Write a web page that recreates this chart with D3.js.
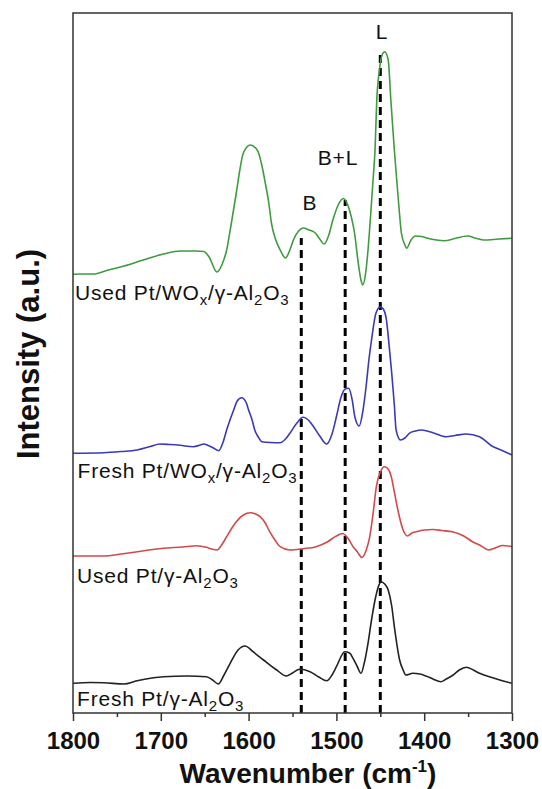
<!DOCTYPE html>
<html><head><meta charset="utf-8">
<script src="https://cdn.jsdelivr.net/npm/d3@7"></script>
<style>body{margin:0;background:#fff} svg{display:block}</style>
</head><body>
<svg id="chart" width="542" height="789"></svg>
<script>
// ---------- data (wavenumber, cm-1  /  offset intensity, a.u.) ----------
const usedWOxWn  = [1800,1790,1777,1760,1746,1720,1697,1678,1660,1651,1645,1636,1630,1625,1620,1614,1610,1606,1598,1592,1589,1585,1581,1577,1574,1569,1564,1558,1553,1549,1543,1538,1531,1524,1519,1514,1509,1504,1498,1492,1487,1483,1479,1476,1472,1470,1467,1464,1461,1458,1456,1454,1451,1448,1445,1441,1438,1434,1431,1428,1426,1422,1420,1415,1410,1403,1396,1386,1377,1365,1351,1340,1332,1315,1300];
const usedWOxVal = [438.7,439,439,443,446,453,459,462,462,461.5,456,441,449,463,488,520,543,560,568,565,561,548,530,510,490,473,463,455,463,473,482,485,483,480,474,469,477,493,508,514.5,508,496,478,456,433,428,438,463,498,536,563,613,643,658,661.3,653,613,563,530,498,480,468,464.7,473,477,476.5,474.7,473,472.3,474.5,477,474.5,473,474,474.7];

const freshWOxWn  = [1800,1765,1745,1727,1712,1701,1690,1678,1663,1655,1651,1646,1640,1634,1629,1625,1617,1613,1608,1603,1600,1596,1593,1589,1585,1575,1564,1558,1553,1545,1538,1532,1526,1519,1511,1505,1500,1495,1490,1486,1482,1479,1474,1470,1466,1463,1460,1455,1450,1446,1443,1440,1437,1434,1432,1427,1422,1417,1410,1403,1390,1375,1365,1352,1337,1323,1310,1300];
const freshWOxVal = [259.7,260.3,261.5,263,266.5,269,268.5,267.7,266.3,268,269,267.5,265,262.3,271,283,303,312,315.3,311,303,293,283,276,271.3,270.5,270.3,274,279.7,290,295.7,293,286.3,277,269,279,296.3,315,324,324.7,313,296.3,287,301,328,353,373,399.7,406.3,403,393,368,340,308,283,273,275,279.7,282,283,280.3,276.3,277.5,279,276.3,267,262,258];

const usedAlWn  = [1800,1765,1745,1727,1697,1675,1659,1648,1642,1636,1630,1625,1619,1614,1606,1598,1592,1587,1581,1576,1570,1564,1553,1538,1523,1510,1500,1493,1487,1481,1476,1471,1466,1462,1458,1454.5,1450,1445,1441,1437.5,1434,1430,1424,1419,1414,1409,1400,1390,1380,1367,1355,1345,1335,1327,1318,1311,1300];
const usedAlVal = [157,157,159,161.3,164.7,166,167.3,165.7,164,163,169,176.3,185,191.3,198,200.3,199,196.3,190,181.3,173,166.3,163,164.3,166.3,171.3,177,179.5,175,166.3,161,155.5,163,176.3,201,226.3,241,246.3,244,236.3,221,203,183,177,180,181.3,183,183.5,182.5,181,177,171.3,167,163,165.5,167.5,166.5];

const freshAlWn  = [1800,1780,1765,1742,1727,1710,1697,1670,1648,1641,1634.5,1628,1621,1612,1604,1595,1583,1568,1557,1550,1542,1530,1520,1511,1505,1500,1490.5,1485,1481,1476,1472,1468,1464,1460,1456,1452,1449,1445,1441,1437,1434,1431,1428,1424,1421,1413,1405,1398,1390,1381,1375,1367,1360,1352,1344,1337,1320,1310,1300];
const freshAlVal = [29.7,30.5,30.3,29,32.3,35,36.3,37,36.3,33,29,38,49.7,63,67,61.3,53,43,37,40,43.7,41.3,36,32.3,38,46.3,61.3,60,54.7,46,39.7,51,69.7,93,113,127,131.3,129,123,107,86.3,68,53,43,38,39.7,39,37,34,31.3,34,38,43,45.7,43,39.7,34.7,32,29.7];

const seriesColors = ["#3f9b3f", "#3a3ab5", "#d24a4a", "#222222"];

// band markers (pyridine): position, label, top (a.u.)
const bandWn    = [1540, 1490, 1450];
const bandLabel = ["B", "B+L", "L"];
const bandTop   = [475, 513, 663];

const xTickValues  = [1800, 1700, 1600, 1500, 1400, 1300];
const xMinorTicks  = [1750, 1650, 1550, 1450, 1350];

// ---------- layout ----------
const W = 542, H = 789;
const m = {left: 73, right: 30, top: 13, bottom: 76};
const FONT = "Liberation Sans, Arial, Helvetica, sans-serif";
const svg = d3.select("#chart");
const x = d3.scaleLinear().domain([1800, 1300]).range([m.left, W - m.right]);
const y = d3.scaleLinear().domain([0, 700]).range([H - m.bottom, m.top]);

const series = [
  {wn: usedWOxWn,  val: usedWOxVal},
  {wn: freshWOxWn, val: freshWOxVal},
  {wn: usedAlWn,   val: usedAlVal},
  {wn: freshAlWn,  val: freshAlVal}
];

const line = d3.line().x(d => x(d[0])).y(d => y(d[1])).curve(d3.curveMonotoneX);

// dashed band lines
bandWn.forEach((w, i) => {
  svg.append("line")
    .attr("x1", x(w)).attr("x2", x(w))
    .attr("y1", y(0)).attr("y2", y(bandTop[i]))
    .attr("stroke", "#000").attr("stroke-width", 3)
    .attr("stroke-dasharray", "8,5");
});

// curves
series.forEach((s, i) => {
  svg.append("path")
    .datum(d3.zip(s.wn, s.val))
    .attr("fill", "none")
    .attr("stroke", seriesColors[i])
    .attr("stroke-width", 1.6)
    .attr("d", line);
});

// frame
svg.append("rect")
  .attr("x", m.left).attr("y", m.top)
  .attr("width", W - m.left - m.right).attr("height", H - m.top - m.bottom)
  .attr("fill", "none").attr("stroke", "#333").attr("stroke-width", 1.5);

// axes
const gx = svg.append("g").attr("transform", `translate(0,${H - m.bottom})`)
  .call(d3.axisBottom(x).tickValues(xTickValues).tickSize(8).tickPadding(11).tickFormat(d3.format("d")));
gx.select(".domain").remove();
gx.selectAll(".tick line").attr("stroke", "#333").attr("stroke-width", 1.5);
gx.selectAll(".tick text").attr("font-family", FONT)
  .attr("font-size", 24).attr("font-weight", "bold").attr("fill", "#111");

const gm = svg.append("g").attr("transform", `translate(0,${H - m.bottom})`)
  .call(d3.axisBottom(x).tickValues(xMinorTicks).tickSize(4).tickFormat(""));
gm.select(".domain").remove();
gm.selectAll(".tick line").attr("stroke", "#333").attr("stroke-width", 1.5);

// axis titles
const xt = svg.append("text")
  .attr("x", 308).attr("y", 783)
  .attr("text-anchor", "middle")
  .attr("font-family", FONT)
  .attr("font-size", 28).attr("font-weight", "bold").attr("fill", "#111");
xt.append("tspan").text("Wavenumber (cm");
xt.append("tspan").attr("dy", -11).attr("font-size", 17).text("-1");
xt.append("tspan").attr("dy", 11).text(")");

svg.append("text")
  .attr("transform", "translate(39,354) rotate(-90)")
  .attr("text-anchor", "middle")
  .attr("font-family", FONT)
  .attr("font-size", 31).attr("font-weight", "bold").attr("fill", "#111")
  .text("Intensity (a.u.)");

// band labels
const bandLabelPos = [[310, 210], [338, 165], [382, 39]];
bandLabel.forEach((t, i) => {
  svg.append("text")
    .attr("x", bandLabelPos[i][0]).attr("y", bandLabelPos[i][1])
    .attr("text-anchor", "middle")
    .attr("font-family", FONT)
    .attr("font-size", 21).attr("letter-spacing", 0.8).attr("fill", "#111")
    .text(t);
});

// series labels with subscripts
const labelParts = [
  [["Used Pt/WO",0],["x",1],["/γ-Al",0],["2",1],["O",0],["3",1]],
  [["Fresh Pt/WO",0],["x",1],["/γ-Al",0],["2",1],["O",0],["3",1]],
  [["Used Pt/γ-Al",0],["2",1],["O",0],["3",1]],
  [["Fresh Pt/γ-Al",0],["2",1],["O",0],["3",1]]
];
const labelPos = [[75, 300], [77.5, 478], [77, 583], [77, 706]];
labelParts.forEach((parts, i) => {
  const t = svg.append("text")
    .attr("x", labelPos[i][0]).attr("y", labelPos[i][1])
    .attr("font-family", FONT)
    .attr("font-size", 21).attr("letter-spacing", 0.8).attr("fill", "#111");
  let prevSub = 0;
  parts.forEach(([s, sub]) => {
    const ts = t.append("tspan").text(s);
    if (sub) ts.attr("font-size", 15);
    const dy = (sub - prevSub) * 5;
    if (dy) ts.attr("dy", dy);
    prevSub = sub;
  });
});
</script>
</body></html>
